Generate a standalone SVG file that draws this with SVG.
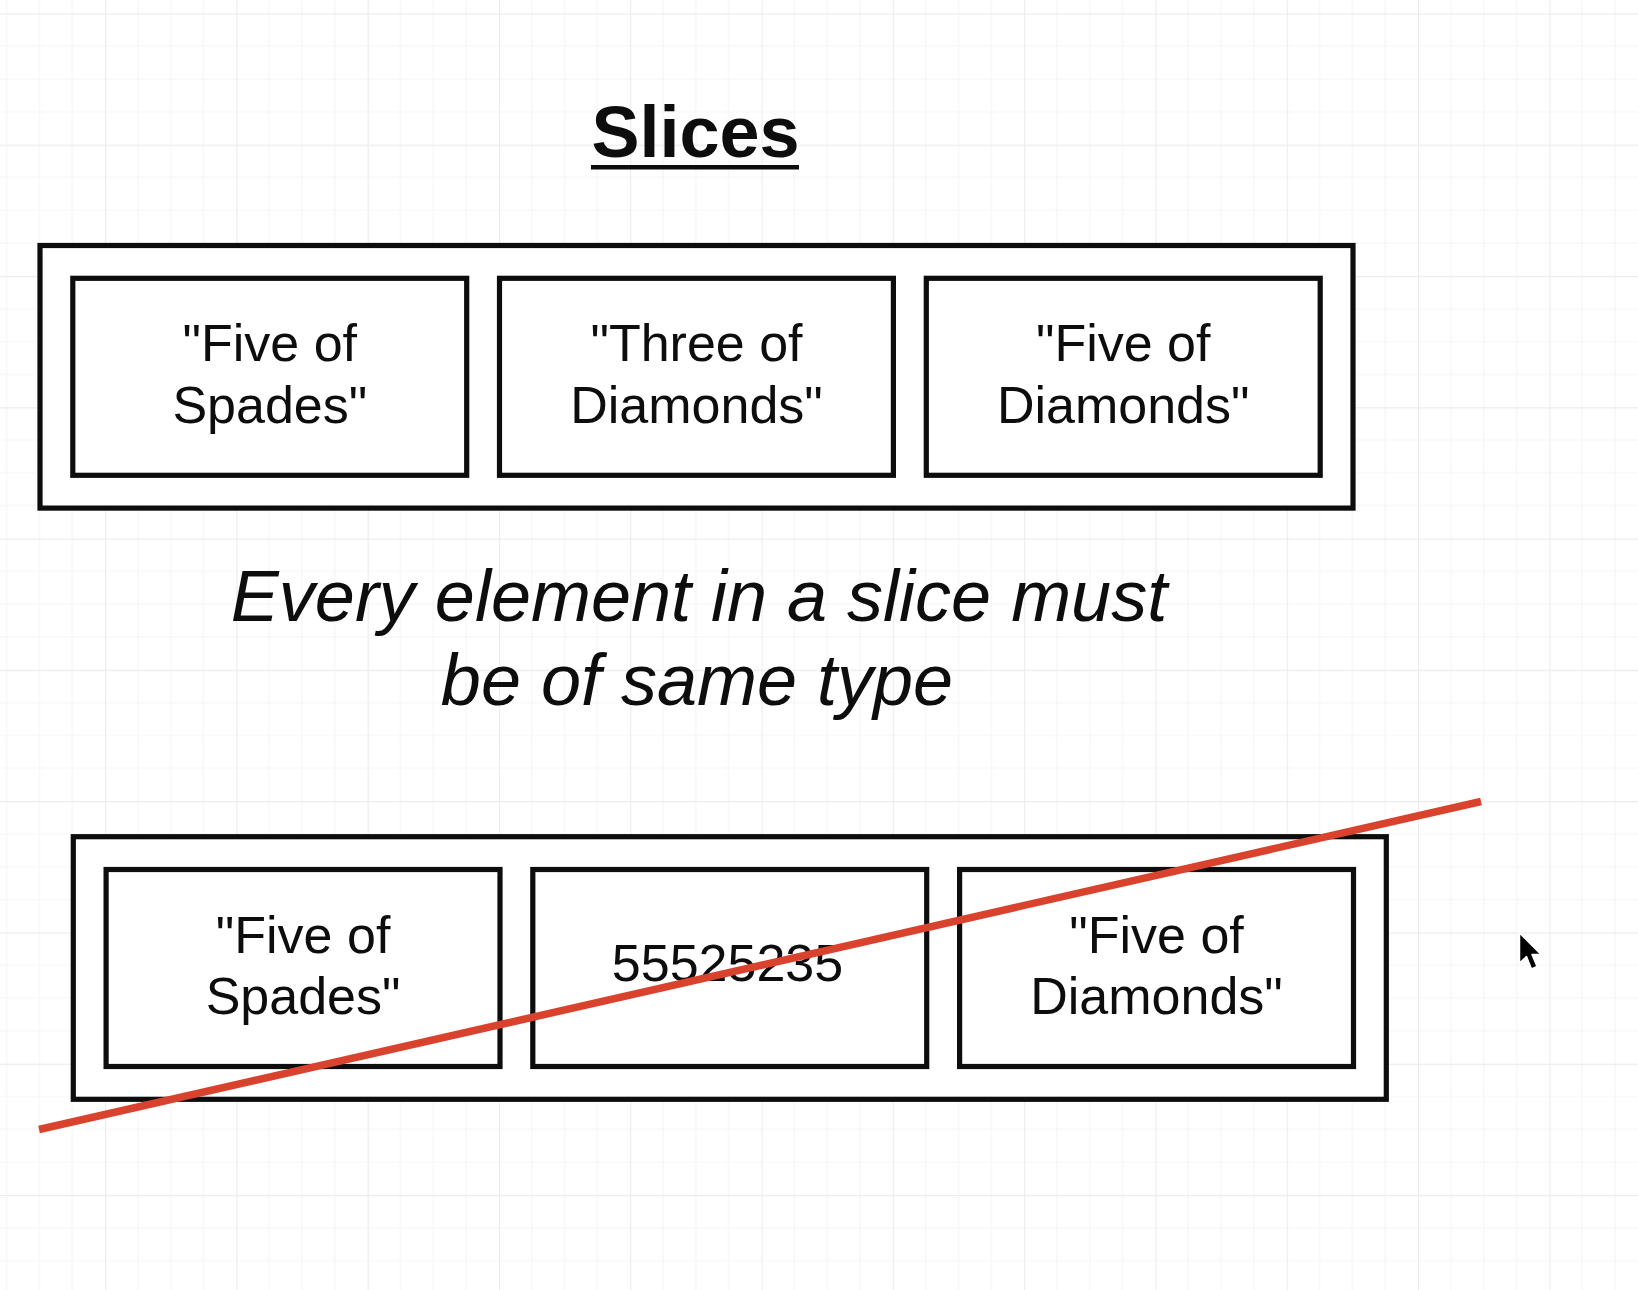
<svg xmlns="http://www.w3.org/2000/svg" width="1638" height="1290" viewBox="0 0 1638 1290">
  <defs>
    <pattern id="grid" patternUnits="userSpaceOnUse" x="105" y="13.3" width="131.3" height="131.3">
      <path d="M32.83 0V131.3M65.65 0V131.3M98.48 0V131.3M0 32.83H131.3M0 65.65H131.3M0 98.48H131.3" stroke="#f6f6f6" stroke-width="1.2" fill="none"/>
      <path d="M0.5 0V131.3M0 0.5H131.3" stroke="#ececec" stroke-width="1.3" fill="none"/>
    </pattern>
  </defs>
  <style>
    .box { fill: #ffffff; stroke: #0d0d0d; stroke-width: 5.2; }
    .lbl { font-family: "Liberation Sans", Arial, Helvetica, sans-serif; font-size: 52px; fill: #0d0d0d; text-anchor: middle; }
    .title { font-family: "Liberation Sans", Arial, Helvetica, sans-serif; font-size: 72px; font-weight: bold; fill: #0d0d0d; text-anchor: middle; }
    .note { font-family: "Liberation Sans", Arial, Helvetica, sans-serif; font-size: 72px; font-style: italic; fill: #0d0d0d; text-anchor: middle; }
    .strike { stroke: #d9432e; stroke-width: 7.5; fill: none; }
  </style>

  <rect width="1638" height="1290" fill="#ffffff"/>
  <rect width="1638" height="1290" fill="url(#grid)"/>

  <g id="title">
    <text class="title" x="695.6" y="157">Slices</text>
    <rect x="591" y="165" width="208" height="4.5" fill="#0d0d0d"/>
  </g>

  <g id="slice-valid">
    <rect class="box" x="40" y="245.5" width="1313" height="262.6"/>
  </g>
  <g id="valid-item-1">
    <rect class="box" x="72.8" y="278.3" width="393.9" height="197"/>
    <text class="lbl" x="269.8" y="361.4">"Five of</text>
    <text class="lbl" x="269.8" y="423">Spades"</text>
  </g>
  <g id="valid-item-2">
    <rect class="box" x="499.5" y="278.3" width="393.9" height="197"/>
    <text class="lbl" x="696.5" y="361.4">"Three of</text>
    <text class="lbl" x="696.5" y="423">Diamonds"</text>
  </g>
  <g id="valid-item-3">
    <rect class="box" x="926.3" y="278.3" width="393.9" height="197"/>
    <text class="lbl" x="1123.2" y="361.4">"Five of</text>
    <text class="lbl" x="1123.2" y="423">Diamonds"</text>
  </g>

  <g id="rule-note">
    <text class="note" x="699" y="621">Every element in a slice must</text>
    <text class="note" x="697" y="705">be of same type</text>
  </g>

  <g id="slice-invalid">
    <rect class="box" x="73.3" y="836.7" width="1313" height="262.6"/>
  </g>
  <g id="invalid-item-1">
    <rect class="box" x="106.1" y="869.5" width="393.9" height="197"/>
    <text class="lbl" x="303.1" y="952.7">"Five of</text>
    <text class="lbl" x="303.1" y="1014.3">Spades"</text>
  </g>
  <g id="invalid-item-2">
    <rect class="box" x="532.8" y="869.5" width="393.9" height="197"/>
    <text class="lbl" x="727.5" y="981">55525235</text>
  </g>
  <g id="invalid-item-3">
    <rect class="box" x="959.6" y="869.5" width="393.9" height="197"/>
    <text class="lbl" x="1156.5" y="952.7">"Five of</text>
    <text class="lbl" x="1156.5" y="1014.3">Diamonds"</text>
  </g>

  <g id="connectors">
    <line class="strike" x1="39" y1="1129.5" x2="1481" y2="801.5"/>
  </g>

  <g id="cursor">
    <path d="M1519.5 933 L1519.5 963 L1526.5 956.5 L1531.5 969 L1537 966.5 L1532 954.5 L1541 954.5 Z" fill="#000000" stroke="#ffffff" stroke-width="1.5" stroke-linejoin="round"/>
  </g>
</svg>
